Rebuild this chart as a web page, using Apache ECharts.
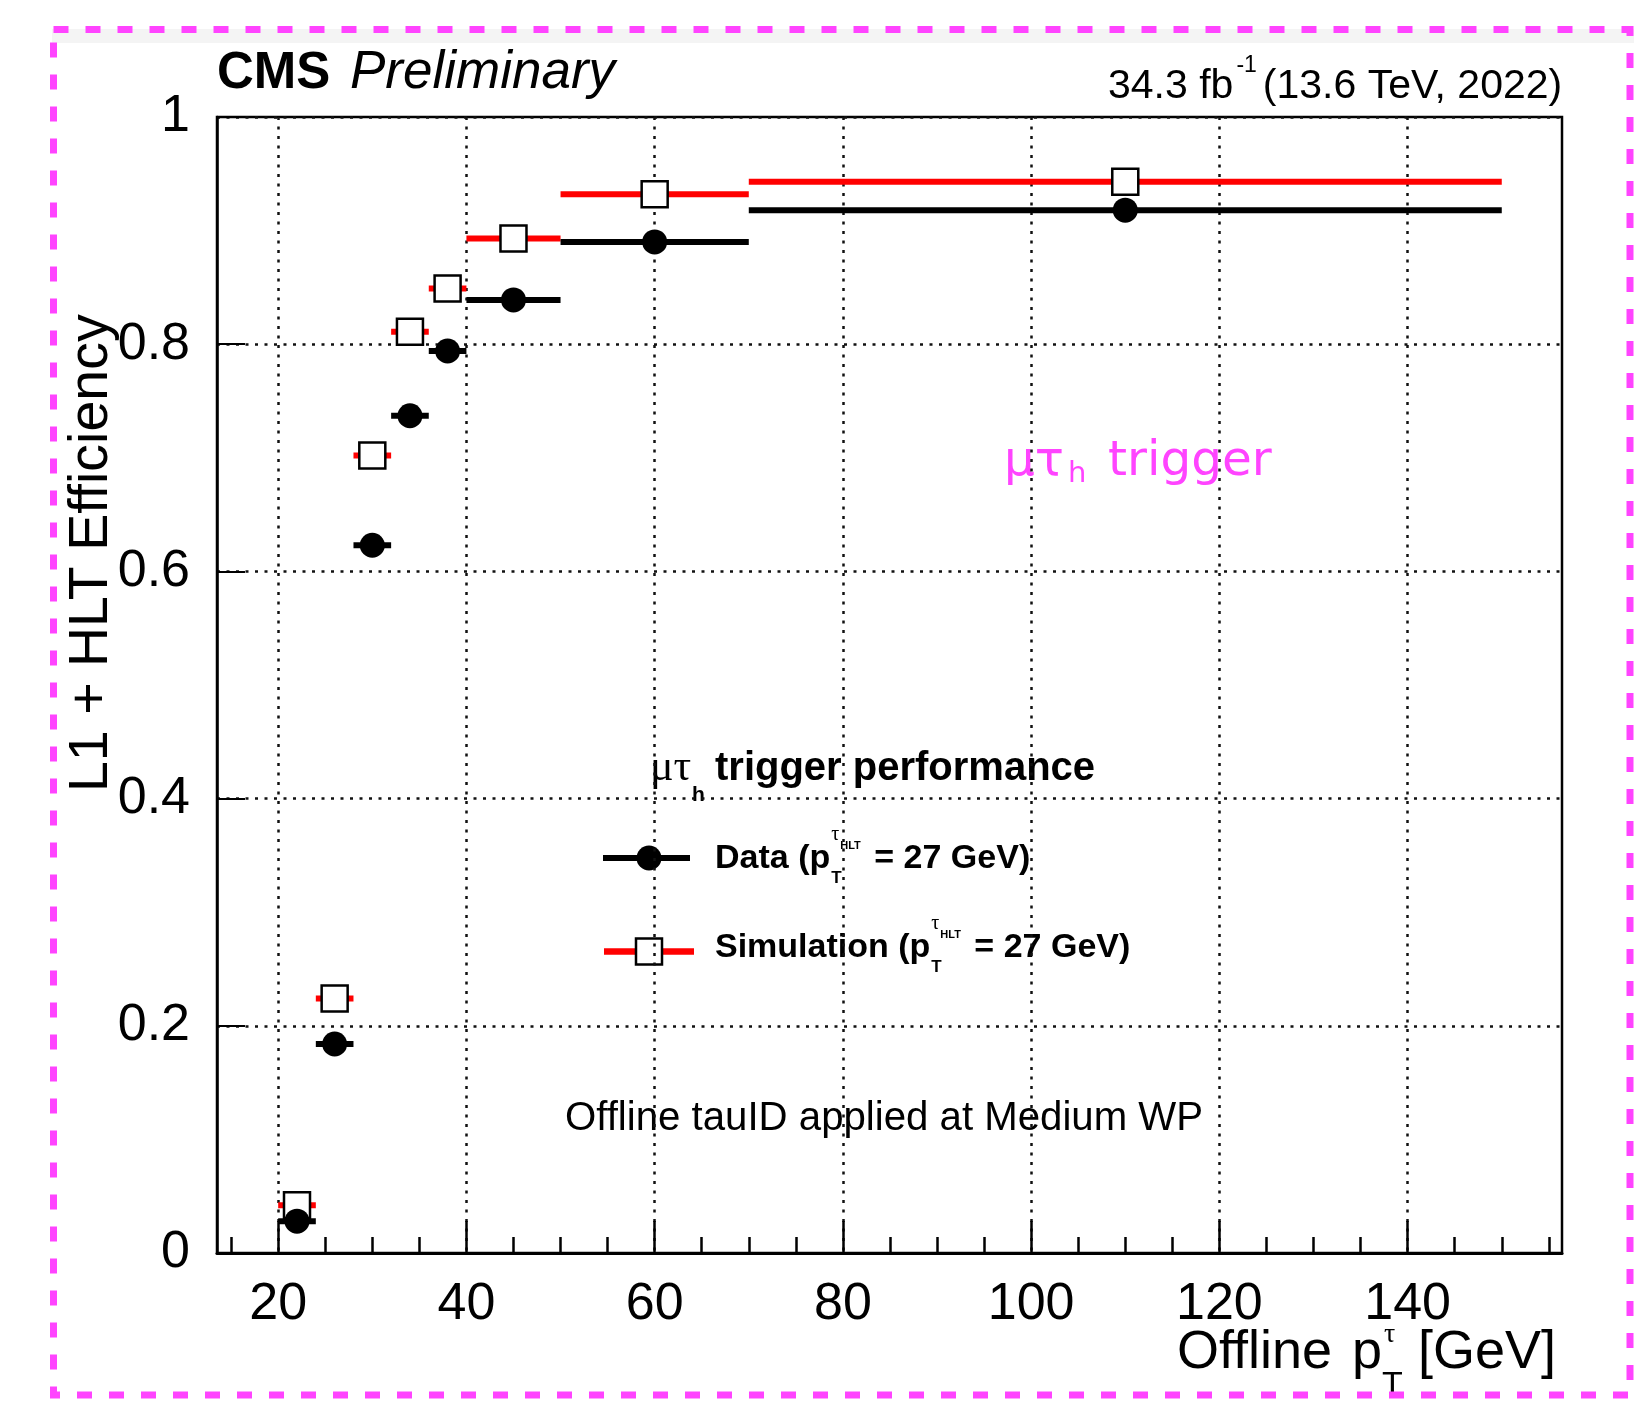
<!DOCTYPE html>
<html><head><meta charset="utf-8">
<script src="https://cdn.jsdelivr.net/npm/echarts@6/dist/echarts.min.js"></script>
<style>html,body{margin:0;padding:0;background:#fff}#c{width:1634px;height:1406px}</style>
</head><body><div id="c"></div>
<script>
// ---- data ----
const binLow    = [20, 24, 28, 32, 36, 40, 50, 70];
const binHigh   = [24, 28, 32, 36, 40, 50, 70, 150];
const binCenter = [22, 26, 30, 34, 38, 45, 60, 110];
const dataEff   = [0.028, 0.184, 0.623, 0.737, 0.794, 0.839, 0.890, 0.918];
const simEff    = [0.042, 0.224, 0.702, 0.811, 0.849, 0.893, 0.932, 0.943];
const xMajorTicks = [20, 40, 60, 80, 100, 120, 140];
const xMinorTicks = [15, 25, 30, 35, 45, 50, 55, 65, 70, 75, 85, 90, 95, 105, 110, 115, 125, 130, 135, 145, 150, 155];

const SANS = 'Liberation Sans', SERIF = 'Liberation Serif';
const MAGENTA = '#ff44ff';

// ---- text helpers (measure with canvas so sub/superscripts sit next to their base) ----
const mctx = document.createElement('canvas').getContext('2d');
function fontStr(p) { return (p.st || 'normal') + ' ' + (p.w || 'normal') + ' ' + p.s + 'px "' + (p.f || SANS) + '"'; }
function textW(t, font) { mctx.font = font; return mctx.measureText(t).width; }
function baseOff(font) { mctx.font = font; mctx.textBaseline = 'middle'; return mctx.measureText('H').actualBoundingBoxDescent; }
function chain(x0, base, parts, color) {
  let cx = x0; const out = [];
  parts.forEach(p => {
    const font = fontStr(p);
    const x = (p.x != null ? p.x : cx + (p.dx || 0));
    out.push({ type: 'text', silent: true, x: x, y: base + (p.dy || 0) - baseOff(font),
      style: { text: p.t, font: font, fill: p.c || color || '#000', textAlign: 'left', textVerticalAlign: 'middle' } });
    if (!p.stack) cx = x + textW(p.t, font);
  });
  return out;
}

const graphics = [];
// light band + magenta dashed frame
graphics.push({ type: 'rect', silent: true, z: 0, shape: { x: 52, y: 29, width: 1582, height: 14 }, style: { fill: '#f4f4f4' } });
graphics.push({ type: 'rect', silent: true, z: 100, shape: { x: 53.5, y: 29.5, width: 1576.5, height: 1365.5 },
  style: { fill: 'none', stroke: MAGENTA, lineWidth: 7, lineDash: [15, 17] } });

// header
graphics.push(...chain(217, 88, [{ t: 'CMS', s: 51, w: 'bold' }]));
graphics.push(...chain(350, 88, [{ t: 'Preliminary', s: 53, st: 'italic' }]));
graphics.push(...chain(1108, 98, [
  { t: '34.3 fb', s: 41 },
  { t: '-1', s: 23, dy: -26, dx: 3 },
  { t: '(13.6 TeV, 2022)', s: 41, dx: 6 }
]));

// x axis title
graphics.push(...chain(0, 1368, [
  { t: 'Offline', s: 54, x: 1177 },
  { t: 'p', s: 54, x: 1352 },
  { t: 'τ', s: 28, f: SERIF, dy: -26, x: 1384, stack: true },
  { t: 'T', s: 34, dy: 27, x: 1382 },
  { t: '[GeV]', s: 54, x: 1418 }
]));

// y axis title (rotated)
(function () {
  const font = fontStr({ s: 55.5 });
  graphics.push({ type: 'text', silent: true, x: 107 - baseOff(font), y: 792, rotation: Math.PI / 2,
    style: { text: 'L1 + HLT Efficiency', font: font, fill: '#000', textAlign: 'left', textVerticalAlign: 'middle' } });
})();

// legend title
graphics.push(...chain(650, 780, [
  { t: 'μτ', s: 44, f: SERIF },
  { t: 'h', s: 21, w: 'bold', dy: 21, x: 692 },
  { t: 'trigger performance', s: 40, w: 'bold', x: 715 }
]));
// legend entries
graphics.push({ type: 'line', silent: true, shape: { x1: 603, y1: 858, x2: 690, y2: 858 }, style: { stroke: '#000', lineWidth: 6 } });
graphics.push({ type: 'circle', silent: true, shape: { cx: 649, cy: 858, r: 12.5 }, style: { fill: '#000' } });
graphics.push({ type: 'line', silent: true, shape: { x1: 604, y1: 951.5, x2: 694, y2: 951.5 }, style: { stroke: '#ff0000', lineWidth: 6.5 } });
graphics.push({ type: 'rect', silent: true, shape: { x: 636, y: 938.5, width: 26, height: 26 }, style: { fill: '#fff', stroke: '#000', lineWidth: 2.5 } });
function entry(label, base) {
  return chain(715, base, [
    { t: label + ' (p', s: 34, w: 'bold' },
    { t: 'T', s: 17, w: 'bold', dy: 15, dx: 1, stack: true },
    { t: 'τ', s: 20, f: SERIF, dy: -28, dx: 1 },
    { t: 'HLT', s: 11, w: 'bold', dy: -19, dx: 1 },
    { t: ' = 27 GeV)', s: 34, w: 'bold', dx: 4 }
  ]);
}
graphics.push(...entry('Data', 868));
graphics.push(...entry('Simulation', 956.5));

// info text
graphics.push(...chain(565, 1130, [{ t: 'Offline tauID applied at Medium WP', s: 40.2 }]));

// magenta annotation
graphics.push(...chain(1004, 475, [
  { t: 'μτ', s: 48.5, f: 'DejaVu Sans' },
  { t: 'h', s: 29, f: 'DejaVu Sans', dy: 7, dx: 4 },
  { t: 'trigger', s: 48.5, f: 'DejaVu Sans', x: 1108 }
], MAGENTA));

// ---- chart ----
const gridDots = { type: [3, 6.5], width: 2.5, color: '#111' };
const chart = echarts.init(document.getElementById('c'), null, { renderer: 'canvas' });
const barItem = color => (params, api) => {
  const a = api.coord([api.value(0), api.value(2)]);
  const b = api.coord([api.value(1), api.value(2)]);
  return { type: 'line', shape: { x1: a[0], y1: a[1], x2: b[0], y2: b[1] }, style: { stroke: color, lineWidth: 6 } };
};
chart.setOption({
  animation: false,
  backgroundColor: '#fff',
  grid: { left: 217, top: 117, width: 1345, height: 1136, show: true, borderColor: '#000', borderWidth: 2.5, backgroundColor: 'transparent' },
  xAxis: [{
    type: 'value', min: 13.5, max: 156.4, position: 'bottom',
    axisLine: { show: true, onZero: false, lineStyle: { color: '#000', width: 3 } },
    axisTick: { show: true, inside: true, length: 32, customValues: xMajorTicks, lineStyle: { color: '#000', width: 2.5 } },
    axisLabel: { show: true, customValues: xMajorTicks, fontSize: 52, fontFamily: SANS, color: '#000', margin: 26 },
    splitLine: { show: true, lineStyle: gridDots }
  }, {
    type: 'value', min: 13.5, max: 156.4, position: 'bottom',
    axisLine: { show: false },
    axisTick: { show: true, inside: true, length: 16, customValues: xMinorTicks, lineStyle: { color: '#000', width: 2.5 } },
    axisLabel: { show: false },
    splitLine: { show: false }
  }],
  yAxis: {
    type: 'value', min: 0, max: 1, interval: 0.2,
    axisLine: { show: true, lineStyle: { color: '#000', width: 2.5 } },
    axisTick: { show: true, inside: true, length: 28, lineStyle: { color: '#000', width: 2 } },
    axisLabel: { fontSize: 52, fontFamily: SANS, color: '#000', margin: 27 },
    splitLine: { show: true, lineStyle: gridDots }
  },
  series: [
    { type: 'custom', name: 'Simulation bins', xAxisIndex: 0, renderItem: barItem('#ff0000'), silent: true, z: 2,
      encode: { x: [0, 1], y: 2 }, data: binLow.map((l, i) => [l, binHigh[i], simEff[i]]) },
    { type: 'scatter', name: 'Simulation', xAxisIndex: 0, symbol: 'rect', symbolSize: 26, silent: true, z: 3,
      itemStyle: { color: '#fff', borderColor: '#000', borderWidth: 2.5, opacity: 1 },
      data: binCenter.map((x, i) => [x, simEff[i]]) },
    { type: 'custom', name: 'Data bins', xAxisIndex: 0, renderItem: barItem('#000'), silent: true, z: 4,
      encode: { x: [0, 1], y: 2 }, data: binLow.map((l, i) => [l, binHigh[i], dataEff[i]]) },
    { type: 'scatter', name: 'Data', xAxisIndex: 0, symbol: 'circle', symbolSize: 25, silent: true, z: 5,
      itemStyle: { color: '#000', opacity: 1 },
      data: binCenter.map((x, i) => [x, dataEff[i]]) }
  ],
  graphic: graphics
});
</script></body></html>
